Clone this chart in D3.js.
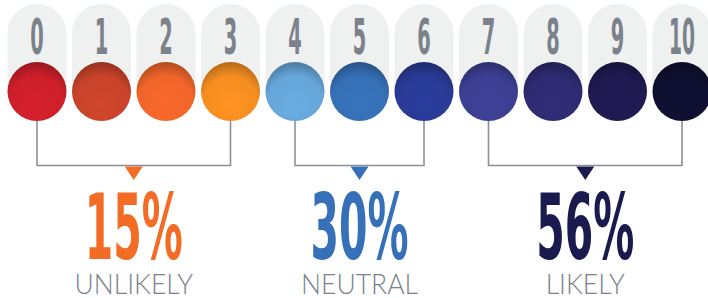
<!DOCTYPE html>
<html>
<head>
<meta charset="utf-8">
<script src="https://cdn.jsdelivr.net/npm/d3@7"></script>
<style>
  html, body { margin: 0; padding: 0; background: #fff; }
  svg { display: block; }
</style>
</head>
<body>
<svg id="chart" width="708" height="298"></svg>
<script>
// Scale points 0..10
var scores = [0, 1, 2, 3, 4, 5, 6, 7, 8, 9, 10];
var scoreColors = ["#cd1f2a", "#c8432a", "#f0652a", "#f58d20", "#66a6d9", "#356fb5",
                   "#293a96", "#3c3e92", "#2e2b72", "#1f1a50", "#0f0f31"];

// Groups
var groupLabels = ["UNLIKELY", "NEUTRAL", "LIKELY"];
var groupPercents = [15, 30, 56];
var groupFrom = [0, 4, 7];
var groupTo = [3, 6, 10];
var groupColors = ["#f26c26", "#3670b9", "#1b1a4f"];

var svg = d3.select("#chart");

// Layout
var r = 29.5,
    cy = 91.5,
    pillTop = 4,
    bracketY = 165.5,
    grey = "#7b828b",
    lineGrey = "#8c9096",
    condensed = "'DejaVu Sans Condensed', 'DejaVu Sans', sans-serif";

var x = d3.scaleLinear().domain([0, 10]).range([37, 682]);

// Squeeze a text horizontally around its anchor point so it spans `w` pixels
function squeeze(sel, w) {
    sel.each(function (d) {
        var t = d3.select(this),
            cx = +t.attr("x"),
            y = +t.attr("y"),
            target = typeof w === "function" ? w(d) : w,
            k = target / this.getComputedTextLength();
        t.attr("x", 0).attr("y", 0)
            .attr("transform", "translate(" + cx + "," + y + ") scale(" + k + ",1)");
    });
}

var defs = svg.append("defs");
scoreColors.forEach(function (c, i) {
    var g = defs.append("radialGradient")
        .attr("id", "ball" + i)
        .attr("cx", "0.5").attr("cy", "0.72").attr("r", "0.78");
    g.append("stop").attr("offset", "0").attr("stop-color", d3.color(c).brighter(0.12));
    g.append("stop").attr("offset", "0.62").attr("stop-color", c);
    g.append("stop").attr("offset", "1").attr("stop-color", d3.color(c).darker(1.1));
});

// Pills behind the balls
svg.append("g").selectAll("path")
    .data(scores)
    .join("path")
    .attr("d", function (d) {
        var l = x(d) - r;
        return "M" + l + "," + cy +
               "V" + (pillTop + r) +
               "A" + r + "," + r + " 0 0 1 " + (l + 2 * r) + "," + (pillTop + r) +
               "V" + cy + "Z";
    })
    .attr("fill", "#eff0f0");

// Digit labels
svg.append("g").selectAll("text")
    .data(scores)
    .join("text")
    .attr("x", function (d) { return x(d); })
    .attr("y", 54)
    .attr("text-anchor", "middle")
    .attr("font-family", condensed)
    .attr("font-weight", "bold")
    .attr("font-size", 49)
    .attr("fill", grey)
    .text(function (d) { return d; })
    .call(squeeze, function (d) { return d === 10 ? 26 : 13.5; });

// Brackets (drawn before balls so stems tuck under them)
var groups = groupLabels.map(function (label, i) {
    return { label: label, pct: groupPercents[i], from: groupFrom[i], to: groupTo[i], color: groupColors[i] };
});

var bracket = svg.append("g").selectAll("g")
    .data(groups)
    .join("g");

bracket.append("path")
    .attr("d", function (d) {
        return "M" + x(d.from) + "," + (cy + 10) +
               "V" + bracketY +
               "H" + x(d.to) +
               "V" + (cy + 10);
    })
    .attr("fill", "none")
    .attr("stroke", lineGrey)
    .attr("stroke-width", 1.6);

bracket.append("path")
    .attr("d", function (d) {
        var m = (x(d.from) + x(d.to)) / 2;
        return "M" + (m - 9) + "," + (bracketY + 1) +
               "L" + (m + 9) + "," + (bracketY + 1) +
               "L" + m + "," + (bracketY + 14.5) + "Z";
    })
    .attr("fill", function (d) { return d.color; });

bracket.append("text")
    .attr("x", function (d) { return (x(d.from) + x(d.to)) / 2; })
    .attr("y", 259)
    .attr("text-anchor", "middle")
    .attr("font-family", condensed)
    .attr("font-weight", "bold")
    .attr("font-size", 91)
    .attr("fill", function (d) { return d.color; })
    .text(function (d) { return d.pct + "%"; })
    .call(squeeze, 98);

bracket.append("text")
    .attr("x", function (d) { return (x(d.from) + x(d.to)) / 2; })
    .attr("y", 294)
    .attr("text-anchor", "middle")
    .attr("font-family", "Lato, 'Open Sans', sans-serif")
    .attr("font-weight", 300)
    .attr("font-size", 26.5)
    .attr("fill", grey)
    .text(function (d) { return d.label; });

// Balls
svg.append("g").selectAll("circle")
    .data(scores)
    .join("circle")
    .attr("cx", function (d) { return x(d); })
    .attr("cy", cy)
    .attr("r", r)
    .attr("fill", function (d) { return "url(#ball" + d + ")"; });
</script>
</body>
</html>
